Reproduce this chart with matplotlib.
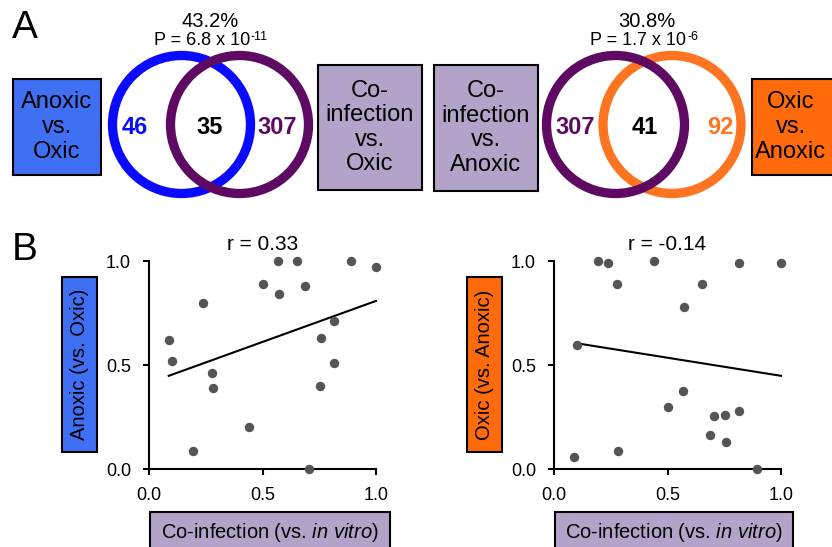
import matplotlib
matplotlib.use("Agg")
import matplotlib.pyplot as plt
from matplotlib.patches import Circle, Rectangle

plt.rcParams['font.family'] = ['Liberation Sans', 'DejaVu Sans']
plt.rcParams['mathtext.fontset'] = 'custom'
plt.rcParams['mathtext.rm'] = 'Liberation Sans'
plt.rcParams['mathtext.it'] = 'Liberation Sans:italic'

# ---- panel A data ----
left_venn_counts = [46, 35, 307]      # anoxic only, shared, co-infection only
left_venn_pct = "43.2%"
left_venn_p = ("P = 6.8 x 10", "-11")
right_venn_counts = [307, 41, 92]     # co-infection only, shared, oxic only
right_venn_pct = "30.8%"
right_venn_p = ("P = 1.7 x 10", "-6")

# ---- panel B data ----
coinf_x_left = [0.087, 0.103, 0.237, 0.196, 0.278, 0.282, 0.441, 0.50, 0.569, 0.574,
                0.65, 0.687, 0.703, 0.753, 0.756, 0.815, 0.815, 0.891, 1.0]
anoxic_y = [0.62, 0.52, 0.80, 0.086, 0.46, 0.39, 0.20, 0.89, 1.0, 0.84,
            1.0, 0.88, 0.0, 0.40, 0.63, 0.71, 0.51, 1.0, 0.97]
left_fit_x = [0.087, 1.0]
left_fit_y = [0.448, 0.808]
left_r = "r = 0.33"

coinf_x_right = [0.088, 0.103, 0.196, 0.237, 0.276, 0.282, 0.441, 0.503, 0.568, 0.572,
                 0.65, 0.687, 0.703, 0.754, 0.759, 0.813, 0.813, 0.893, 1.0]
oxic_y = [0.058, 0.595, 1.0, 0.99, 0.89, 0.086, 1.0, 0.30, 0.376, 0.78,
          0.89, 0.165, 0.253, 0.258, 0.131, 0.28, 0.99, 0.0, 0.99]
right_fit_x = [0.097, 1.0]
right_fit_y = [0.605, 0.448]
right_r = "r = -0.14"

ticks = [0.0, 0.5, 1.0]
tick_labels = ["0.0", "0.5", "1.0"]

blue_box = "#3f6ff2"
blue_ring = "#0a0aff"
purple_ring = "#5e0a62"
lav_box = "#b3a3c9"
orange_box = "#ff6a0a"
orange_ring = "#ff7420"

W, H = 832, 547
fig = plt.figure(figsize=(W / 100, H / 100), dpi=100)

# overlay in pixel coordinates for panel A and label boxes
ov = fig.add_axes([0, 0, 1, 1])
ov.set_xlim(0, W)
ov.set_ylim(H, 0)
ov.axis("off")

ov.text(12, 38, "A", fontsize=28, ha="left", va="baseline")
ov.text(12, 260, "B", fontsize=28, ha="left", va="baseline")


def box(x0, y0, x1, y1, color, label, fs=17, rot=0):
    ov.add_patch(Rectangle((x0, y0), x1 - x0, y1 - y0, facecolor=color,
                           edgecolor="black", lw=1.5, clip_on=False))
    if label:
        ov.text((x0 + x1) / 2, (y0 + y1) / 2, label, fontsize=fs, rotation=rot,
                ha="center", va="center", linespacing=1.15)


box(13, 79, 101, 175, blue_box, "Anoxic\nvs.\nOxic")
box(318, 65, 422, 190, lav_box, "Co-\ninfection\nvs.\nOxic")
box(434, 65, 538, 191, lav_box, "Co-\ninfection\nvs.\nAnoxic")
box(752, 79, 840, 175, orange_box, None)
ov.text(791, 127, "Oxic\nvs.\nAnoxic", fontsize=17, ha="center", va="center", linespacing=1.15)

# venn rings
ring_r = 69
ring_lw = 6.7
ov.add_patch(Circle((181.5, 124.5), ring_r, fill=False, ec=blue_ring, lw=ring_lw))
ov.add_patch(Circle((239.5, 124.5), ring_r, fill=False, ec=purple_ring, lw=ring_lw))
ov.add_patch(Circle((672, 124.5), ring_r, fill=False, ec=orange_ring, lw=ring_lw))
ov.add_patch(Circle((615.5, 124.5), ring_r, fill=False, ec=purple_ring, lw=ring_lw))

for xc, n, c in zip([135, 210, 277.5], left_venn_counts, [blue_ring, "black", purple_ring]):
    ov.text(xc, 127, str(n), fontsize=17, fontweight="bold", color=c, ha="center", va="center")
for xc, n, c in zip([575.5, 644.5, 720], right_venn_counts, [purple_ring, "black", orange_ring]):
    ov.text(xc, 127, str(n), fontsize=17, fontweight="bold", color=c, ha="center", va="center")


def pval(xc, pct, p):
    ov.text(xc + 8, 27, pct, fontsize=14.5, ha="center", va="baseline")
    base = ov.text(xc, 45, p[0], fontsize=13, ha="center", va="baseline")
    ov.annotate(p[1], xy=(1, 1), xycoords=base, xytext=(0.5, 0.5), textcoords="offset points",
                fontsize=9, ha="left", va="top")


pval(202, left_venn_pct, left_venn_p)
pval(638.5, right_venn_pct, right_venn_p)

# axis label boxes
box(62, 277, 97, 452, blue_box, "Anoxic (vs. Oxic)", fs=14.5, rot=90)
box(467, 277, 502, 452, orange_box, "Oxic (vs. Anoxic)", fs=14.5, rot=90)
for x0, x1 in [(150, 390), (555, 793)]:
    box(x0, 512, x1, 560, lav_box, None)
    ov.text((x0 + x1) / 2, 533, "Co-infection (vs. $\\it{in\\ vitro}$)", fontsize=14.5,
            ha="center", va="center")


def scatter_panel(rect, xs, ys, fx, fy, title):
    ax = fig.add_axes(rect)
    ax.plot(xs, ys, "o", color="#555555", ms=6.8, mec="none", clip_on=False, zorder=3)
    ax.plot(fx, fy, color="black", lw=1.5, clip_on=False, zorder=2)
    ax.set_xlim(0, 1)
    ax.set_ylim(0, 1)
    ax.set_xticks(ticks)
    ax.set_xticklabels(tick_labels)
    ax.set_yticks(ticks)
    ax.set_yticklabels(tick_labels)
    ax.tick_params(labelsize=13, width=1.5, length=4, pad=9)
    for s in ["top", "right"]:
        ax.spines[s].set_visible(False)
    for s in ["left", "bottom"]:
        ax.spines[s].set_linewidth(1.5)
    ax.patch.set_alpha(0)
    ax.set_title(title, fontsize=15, pad=8)
    return ax


scatter_panel([149 / W, 1 - 469 / H, 227 / W, 208 / H],
              coinf_x_left, anoxic_y, left_fit_x, left_fit_y, left_r)
scatter_panel([554 / W, 1 - 469 / H, 227 / W, 208 / H],
              coinf_x_right, oxic_y, right_fit_x, right_fit_y, right_r)

fig.savefig("out.png", dpi=100)
